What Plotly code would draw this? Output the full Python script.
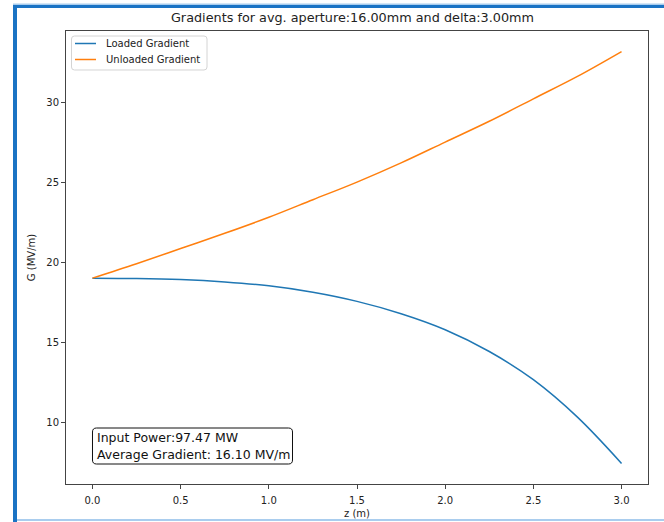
import plotly.graph_objects as go

# Position along the structure (m)
z = [0.0, 0.25, 0.5, 0.75, 1.0, 1.25, 1.5, 1.75, 2.0, 2.25, 2.5, 2.75, 3.0]

# Gradient profiles (MV/m)
loaded_gradient = [19.00, 18.98, 18.91, 18.76, 18.52, 18.12, 17.55, 16.78, 15.78, 14.42, 12.66, 10.32, 7.43]
unloaded_gradient = [19.00, 19.90, 20.85, 21.80, 22.80, 23.90, 25.00, 26.20, 27.50, 28.80, 30.20, 31.60, 33.15]

series_names = ["Loaded Gradient", "Unloaded Gradient"]
series_colors = ["#1f77b4", "#ff7f0e"]

title_text = "Gradients for avg. aperture:16.00mm and delta:3.00mm"
info_lines = ["Input Power:97.47 MW", "Average Gradient: 16.10 MV/m"]

W, H = 664, 522
L, R, T, B = 66, 16, 31, 38
pw, ph = W - L - R, H - T - B


def px(x):
    """pixel column -> paper x"""
    return (x - L) / pw


def py(y):
    """pixel row -> paper y"""
    return (H - B - y) / ph


def rounded_box(x0, y0, x1, y1, r):
    """Rounded rectangle path (pixel corners) in paper coordinates."""
    pts = [
        ("M", x0 + r, y0), ("L", x1 - r, y0), ("Q", x1, y0, x1, y0 + r),
        ("L", x1, y1 - r), ("Q", x1, y1, x1 - r, y1), ("L", x0 + r, y1),
        ("Q", x0, y1, x0, y1 - r), ("L", x0, y0 + r), ("Q", x0, y0, x0 + r, y0),
    ]
    parts = []
    for p in pts:
        if p[0] == "Q":
            parts.append(f"Q{px(p[1]):.5f},{py(p[2]):.5f} {px(p[3]):.5f},{py(p[4]):.5f}")
        else:
            parts.append(f"{p[0]}{px(p[1]):.5f},{py(p[2]):.5f}")
    return " ".join(parts) + " Z"


FONT = "DejaVu Sans"
TXT = "#222"

fig = go.Figure()
for name, color, vals in zip(series_names, series_colors, [loaded_gradient, unloaded_gradient]):
    fig.add_trace(go.Scatter(x=z, y=vals, mode="lines", name=name, showlegend=False,
                             line=dict(color=color, width=1.5, shape="spline", smoothing=1.0)))

# 5% padding around the data, like an autoscaled axis
xmin, xmax = min(z), max(z)
xpad = 0.05 * (xmax - xmin)
allg = loaded_gradient + unloaded_gradient
ymin, ymax = min(allg), max(allg)
ypad = 0.05 * (ymax - ymin)

axis_common = dict(showline=True, linecolor="#444", linewidth=1, mirror=True,
                   ticks="outside", ticklen=4, tickcolor="#444", tickwidth=1,
                   showgrid=False, zeroline=False, automargin=False,
                   tickfont=dict(family=FONT, size=10, color=TXT))

fig.update_xaxes(range=[xmin - xpad, xmax + xpad], tickvals=[0, 0.5, 1.0, 1.5, 2.0, 2.5, 3.0],
                 tickformat=".1f", ticklabelstandoff=3,
                 title=dict(text="z (m)", font=dict(family=FONT, size=10, color=TXT), standoff=4),
                 **axis_common)
fig.update_yaxes(range=[ymin - ypad, ymax + ypad], tickvals=[10, 15, 20, 25, 30],
                 title=dict(text="G (MV/m)", font=dict(family=FONT, size=10, color=TXT), standoff=8),
                 **axis_common)

shapes = []
annotations = []

# Legend box with line samples
shapes.append(dict(type="path", xref="paper", yref="paper", path=rounded_box(71.5, 36, 207, 70, 3),
                   fillcolor="rgba(255,255,255,0.8)", line=dict(color="#d4d4d4", width=1), layer="above"))
for i, (name, color) in enumerate(zip(series_names, series_colors)):
    yy = 43.5 + 16 * i
    shapes.append(dict(type="line", xref="paper", yref="paper", x0=px(75), x1=px(96), y0=py(yy), y1=py(yy),
                       line=dict(color=color, width=1.5), layer="above"))
    annotations.append(dict(text=name, xref="paper", yref="paper", x=px(104), y=py(yy),
                            xanchor="left", yanchor="middle", showarrow=False,
                            font=dict(family=FONT, size=10, color=TXT)))

# Info box
shapes.append(dict(type="path", xref="paper", yref="paper", path=rounded_box(92.5, 428, 292.5, 464, 4),
                   fillcolor="white", line=dict(color="#111", width=1), layer="above"))
for i, line in enumerate(info_lines):
    annotations.append(dict(text=line, xref="paper", yref="paper", x=px(95), y=py(437.5 + 17 * i),
                            xanchor="left", yanchor="middle", showarrow=False,
                            font=dict(family=FONT, size=12.5, color="#111")))

# Notebook cell frame
frame_dark = "#1a73c4"
frame_light = "#a9cdee"
for x0, x1, y0, y1, c in [(13, 17, 5, H, frame_dark), (13, W, 5, 8, frame_dark),
                          (13, W, 3.5, 5, frame_light), (17, W, 519, 521, frame_light)]:
    shapes.append(dict(type="rect", xref="paper", yref="paper", x0=px(x0), x1=px(x1), y0=py(y1), y1=py(y0),
                       fillcolor=c, line=dict(width=0), layer="above"))

fig.update_layout(
    width=W, height=H,
    margin=dict(l=L, r=R, t=T, b=B, pad=0, autoexpand=False),
    paper_bgcolor="white", plot_bgcolor="white",
    font=dict(family=FONT, color=TXT),
    title=dict(text=title_text, x=352.5 / W, xanchor="center",
               y=1 - 18 / H, yanchor="middle", font=dict(family=FONT, size=12.8, color=TXT)),
    showlegend=False,
    shapes=shapes,
    annotations=annotations,
)

fig.write_html("out.html")
